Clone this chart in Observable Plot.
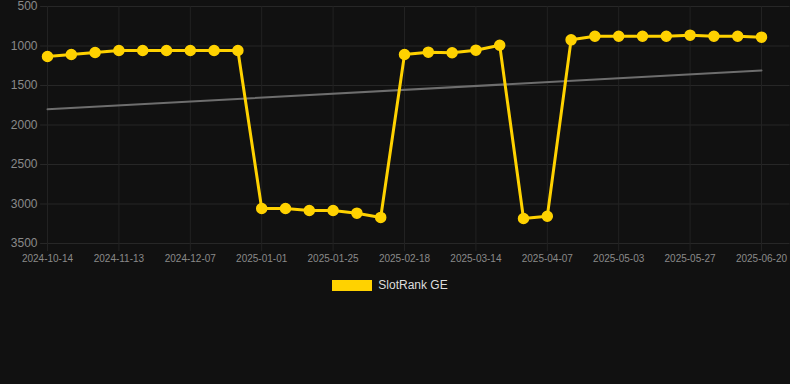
<!DOCTYPE html>
<html>
<head>
<meta charset="utf-8">
<script src="https://cdn.jsdelivr.net/npm/d3@7"></script>
<script src="https://cdn.jsdelivr.net/npm/@observablehq/plot@0.6"></script>
<style>
  html, body { margin: 0; padding: 0; background: #111111; width: 790px; height: 384px; overflow: hidden; }
  #chart svg { display: block; }
  #legend { display: flex; justify-content: center; align-items: center; margin-top: 8px; padding-right: 10px; font-family: "Liberation Sans", Arial, sans-serif; font-size: 12px; color: #dddddd; }
  #legend .sw { width: 40px; height: 11px; background: #FFD200; margin-right: 6px; }
</style>
</head>
<body>
<div id="chart"></div>
<div id="legend"><span class="sw"></span><span>SlotRank GE</span></div>
<script>
const seriesName = "SlotRank GE";
const ranks = [1133, 1108, 1082, 1057, 1057, 1057, 1057, 1057, 1057,
               3057, 3057, 3082, 3082, 3116, 3170,
               1108, 1078, 1086, 1053, 990,
               3183, 3155,
               922, 876, 876, 876, 876, 863, 876, 876, 888];
const tickLabels = ["2024-10-14", "2024-11-13", "2024-12-07", "2025-01-01", "2025-01-25",
                    "2025-02-18", "2025-03-14", "2025-04-07", "2025-05-03", "2025-05-27", "2025-06-20"];
const trendValues = [1800, 1310];
const yTicks = [500, 1000, 1500, 2000, 2500, 3000, 3500];

const data = ranks.map((v, i) => ({i, v}));
const n = ranks.length;
const trend = [{i: 0, v: trendValues[0]}, {i: n - 1, v: trendValues[1]}];
const xTicks = tickLabels.map((_, k) => k * 3);

const chart = Plot.plot({
  width: 790,
  height: 270,
  marginLeft: 47,
  marginRight: 29,
  marginTop: 6,
  marginBottom: 27,
  style: {background: "#111111", fontFamily: "Liberation Sans, Arial, sans-serif", overflow: "visible"},
  x: {domain: [0, n - 1], ticks: xTicks, tickFormat: d => tickLabels[d / 3]},
  y: {domain: [3500, 500], ticks: yTicks},
  marks: [
    Plot.gridY(yTicks, {stroke: "#272727", strokeOpacity: 1, x1: -0.29, x2: n + 0.2}),
    Plot.gridX(xTicks, {stroke: "#222222", strokeOpacity: 1}),
    Plot.axisY({ticks: yTicks, tickFormat: d => String(d), tickSize: 0, tickPadding: 10, fill: "#8a8a8a", fontSize: 12, label: null}),
    Plot.axisX({ticks: xTicks, tickFormat: d => tickLabels[d / 3], tickSize: 8, stroke: "#222222", tickPadding: 3, fill: "#8a8a8a", fontSize: 10, label: null}),
    Plot.line(trend, {x: "i", y: "v", stroke: "#6e6e6e", strokeWidth: 2}),
    Plot.line(data, {x: "i", y: "v", stroke: "#FFD200", strokeWidth: 3}),
    Plot.dot(data, {x: "i", y: "v", r: 5, fill: "#FFD200", stroke: "#FFD200"})
  ]
});
document.getElementById("chart").appendChild(chart);
</script>
</body>
</html>
